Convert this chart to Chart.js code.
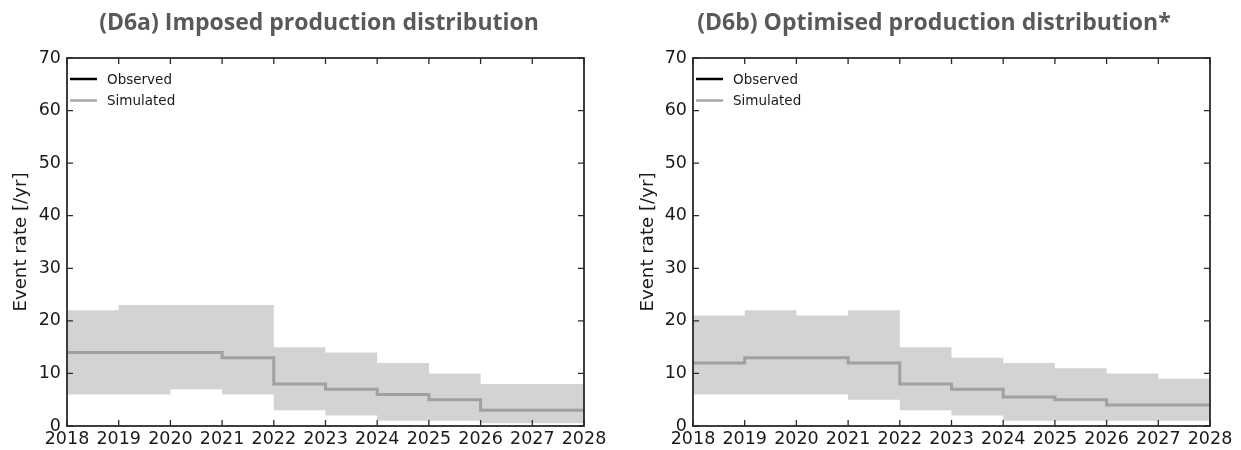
<!DOCTYPE html>
<html><head><meta charset="utf-8">
<script src="https://cdn.jsdelivr.net/npm/chart.js@4/dist/chart.umd.min.js"></script>
<style>
html,body{margin:0;padding:0;background:#fff;overflow:hidden}
#wrap{position:relative;width:1241px;height:450px}
.c{position:absolute;top:0;height:450px}
#c1{left:0;width:620px}
#c2{left:620px;width:621px}
</style></head><body>
<div id="wrap">
<div class="c" id="c1"><canvas id="chart1"></canvas></div>
<div class="c" id="c2"><canvas id="chart2"></canvas></div>
</div>
<script>
// ---- data ----
const years = [2018,2019,2020,2021,2022,2023,2024,2025,2026,2027,2028];
const xTickLabels = ["2018","2019","2020","2021","2022","2023","2024","2025","2026","2027","2028"];
const yTicks = [0,10,20,30,40,50,60,70];
const titleA = "(D6a) Imposed production distribution";
const titleB = "(D6b) Optimised production distribution*";
const yTitle = "Event rate [/yr]";
const legendLabels = ["Observed", "Simulated"];
// one value per yearly interval (2018-19 ... 2027-28)
const a_upper  = [22, 23, 23, 23, 15, 14, 12, 10, 8, 8];
const a_median = [14, 14, 14, 13, 8, 7, 6, 5, 3, 3];
const a_lower  = [6, 6, 7, 6, 3, 2, 1, 1, 0.5, 0.5];
const b_upper  = [21, 22, 21, 22, 15, 13, 12, 11, 10, 9];
const b_median = [12, 13, 13, 12, 8, 7, 5.5, 5, 4, 4];
const b_lower  = [6, 6, 6, 5, 3, 2, 1, 1, 1, 1];
const observed = [];

function steps(vals){
  return years.map((yr,i)=>({x:yr, y:vals[Math.min(i, vals.length-1)]}));
}

const BAND = '#d3d3d3';
const SIMC = '#a0a0a0';
const TEXTC = '#1a1a1a';
const TICKFONT = {family:'"DejaVu Sans"', size:17.5};

const framePlugin = {
  id:'frame',
  afterDatasetsDraw(chart){
    const {ctx, chartArea:a, scales:{x,y}} = chart;
    ctx.save();
    ctx.strokeStyle = '#2a2a2a';
    ctx.lineWidth = 1.3;
    ctx.beginPath();
    const L=6;
    years.forEach(v=>{
      const px = x.getPixelForValue(v);
      ctx.moveTo(px, a.bottom); ctx.lineTo(px, a.bottom-L);
      ctx.moveTo(px, a.top); ctx.lineTo(px, a.top+L);
    });
    yTicks.forEach(v=>{
      const py = y.getPixelForValue(v);
      ctx.moveTo(a.left, py); ctx.lineTo(a.left+L, py);
      ctx.moveTo(a.right, py); ctx.lineTo(a.right-L, py);
    });
    ctx.stroke();
    ctx.lineWidth = 1.8;
    ctx.strokeRect(a.left, a.top, a.right-a.left, a.bottom-a.top);
    ctx.restore();
  }
};

const legendPlugin = {
  id:'innerLegend',
  afterDraw(chart){
    const {ctx, chartArea:a} = chart;
    const items = chart.data.datasets.filter(d=>d.inLegend)
      .sort((p,q)=>legendLabels.indexOf(p.label)-legendLabels.indexOf(q.label));
    ctx.save();
    ctx.font = '13.5px "DejaVu Sans"';
    ctx.textBaseline = 'middle';
    items.forEach((d,i)=>{
      const yy = a.top + 21 + i*21.5;
      ctx.strokeStyle = d.legendColor;
      ctx.lineWidth = 2.5;
      ctx.beginPath();
      ctx.moveTo(a.left+3, yy); ctx.lineTo(a.left+30, yy);
      ctx.stroke();
      ctx.fillStyle = TEXTC;
      ctx.fillText(d.label, a.left+40, yy+1);
    });
    ctx.restore();
  }
};

const titlePlugin = {
  id:'panelTitle',
  afterDraw(chart, args, opts){
    const ctx = chart.ctx;
    ctx.save();
    ctx.font = 'bold 23px "Open Sans"';
    ctx.fillStyle = '#595959';
    ctx.textAlign = 'center';
    ctx.textBaseline = 'middle';
    ctx.fillText(opts.text, opts.x, 23);
    ctx.restore();
  }
};

function makeChart(id, upper, median, lower, title, titleX, padL, padR, titlePad){
  return new Chart(document.getElementById(id), {
    type:'line',
    data:{
      datasets:[
        {label:legendLabels[1], data:steps(median), stepped:true, borderColor:SIMC, borderWidth:3,
         pointRadius:0, fill:false, inLegend:true, legendColor:'#a8a8a8', order:1},
        {label:'upper', data:steps(upper), stepped:true, borderWidth:0, borderColor:'rgba(0,0,0,0)',
         backgroundColor:BAND, pointRadius:0, fill:'+1', order:2},
        {label:'lower', data:steps(lower), stepped:true, borderWidth:0, borderColor:'rgba(0,0,0,0)',
         pointRadius:0, fill:false, order:3},
        {label:legendLabels[0], data:observed, borderColor:'#000', borderWidth:2.5, pointRadius:0,
         fill:false, inLegend:true, legendColor:'#000', order:0}
      ]
    },
    options:{
      responsive:true, maintainAspectRatio:false, animation:false,
      layout:{padding:{left:padL, right:padR, top:58, bottom:0}},
      plugins:{legend:{display:false}, tooltip:{enabled:false}, panelTitle:{text:title, x:titleX}},
      scales:{
        x:{type:'linear', min:2018, max:2028,
           afterBuildTicks:s=>{s.ticks = years.map(v=>({value:v}));},
           afterFit:s=>{s.height = 24;},
           grid:{display:false, drawTicks:false}, border:{display:false},
           ticks:{autoSkip:false, maxRotation:0, padding:3, color:TEXTC, font:TICKFONT,
                  callback:(v,i)=>xTickLabels[i]}},
        y:{type:'linear', min:0, max:70,
           afterBuildTicks:s=>{s.ticks = yTicks.map(v=>({value:v}));},
           afterFit:s=>{s.width = 67;},
           grid:{display:false, drawTicks:false}, border:{display:false},
           ticks:{padding:6, color:TEXTC, font:TICKFONT, callback:v=>String(v)},
           title:{display:true, text:yTitle, color:TEXTC, font:{family:'"DejaVu Sans"', size:18.2}, padding:{top:titlePad, bottom:0}}}
      }
    },
    plugins:[framePlugin, legendPlugin, titlePlugin]
  });
}

makeChart('chart1', a_upper, a_median, a_lower, titleA, 319, 0, 36, 10);
makeChart('chart2', b_upper, b_median, b_lower, titleB, 314, 6, 31, 11.5);
</script>
</body></html>
